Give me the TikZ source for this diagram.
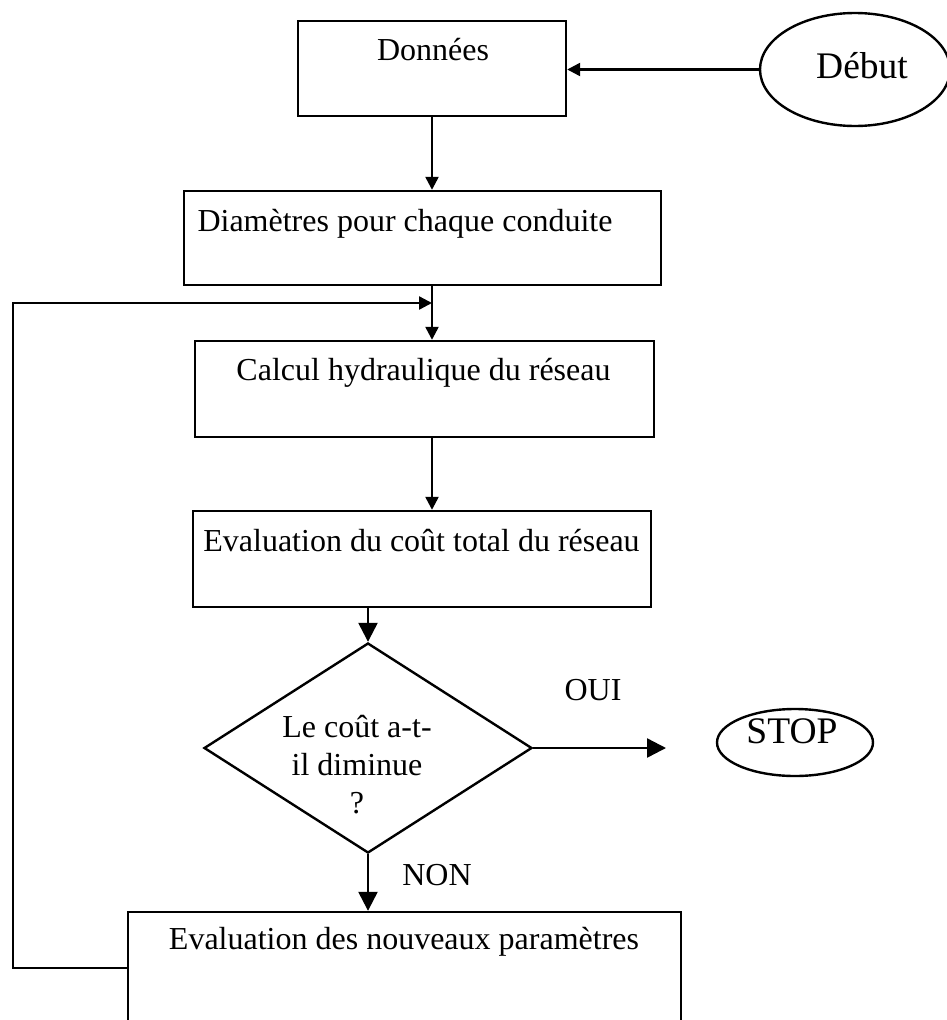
\documentclass[tikz,border=0pt]{standalone}
\usepackage{fontspec}
\setmainfont{Liberation Serif}
\usetikzlibrary{shapes.geometric,arrows.meta}
\begin{document}
\begin{tikzpicture}[x=1pt,y=-1pt,
  box/.style={draw,line width=2.4pt,rectangle,inner sep=0pt},
  oval/.style={draw,ellipse,line width=2.4pt,inner sep=0pt},
  lbl/.style={anchor=base,inner sep=0pt,font=\fontsize{32}{38}\selectfont},
  big/.style={anchor=base,inner sep=0pt,font=\fontsize{37.5}{44}\selectfont},
  conn/.style={line width=2.4pt},
  arS/.style={conn,-{Triangle[length=13pt,width=13pt]}},
  arB/.style={conn,-{Triangle[length=19pt,width=19pt]}}]
\useasboundingbox (0,0) rectangle (946,1020);
% boxes
\node[box,minimum width=268pt,minimum height=95pt] (donnees) at (432,68.5) {};
\node[box,minimum width=477pt,minimum height=94pt] (diam) at (422.5,238) {};
\node[box,minimum width=459pt,minimum height=96pt] (calc) at (424.5,389) {};
\node[box,minimum width=458pt,minimum height=96pt] (evalc) at (422,559) {};
\node[box,minimum width=553pt,minimum height=112pt] (nouv) at (404.5,968) {};
\node[oval,minimum width=190pt,minimum height=113pt] (debut) at (855,69.5) {};
\node[oval,minimum width=156pt,minimum height=67pt] (stop) at (795,742.5) {};
\node[draw,diamond,line width=2.4pt,minimum width=328pt,minimum height=210pt,inner sep=0pt,aspect=1.56] (dec) at (368,748) {};
% texts
\node[lbl] (tDon) at (433,60) {Données};
\node[lbl] (tDia) at (405,231) {Diamètres pour chaque conduite};
\node[lbl] (tCal) at (423.5,380) {Calcul hydraulique du réseau};
\node[lbl] (tEvc) at (421.5,551) {Evaluation du coût total du réseau};
\node[lbl] (tNou) at (404,949) {Evaluation des nouveaux paramètres};
\node[big] (tDeb) at (862,78) {Début};
\node[big] (tStop) at (792,743) {STOP};
\node[lbl] (tOui) at (593,700) {OUI};
\node[lbl] (tNon) at (437,885) {NON};
\node[lbl,align=center] (tQ) at (357,813) {Le coût a-t-\\il diminue\\?};
% connectors
\draw[arS] (debut.west) -- (debut.west -| donnees.east);
\draw[arS] (donnees.south) -- (donnees.south |- diam.north);
\draw[arS] (diam.south -| donnees.south) -- (calc.north -| donnees.south);
\coordinate (lA) at (13,968);
\coordinate (lB) at (13,303);
\coordinate (lC) at (432,303);
\draw[arS] (nouv.west) -- (lA) -- (lB) -- (lC);
\draw[arS] (calc.south -| donnees.south) -- (evalc.north -| donnees.south);
\draw[arB] (evalc.south -| dec.north) -- (dec.north);
\coordinate (oE) at (666,748);
\draw[arB] (dec.east) -- (oE);
\draw[arB] (dec.south) -- (dec.south |- nouv.north);
\end{tikzpicture}
\end{document}
